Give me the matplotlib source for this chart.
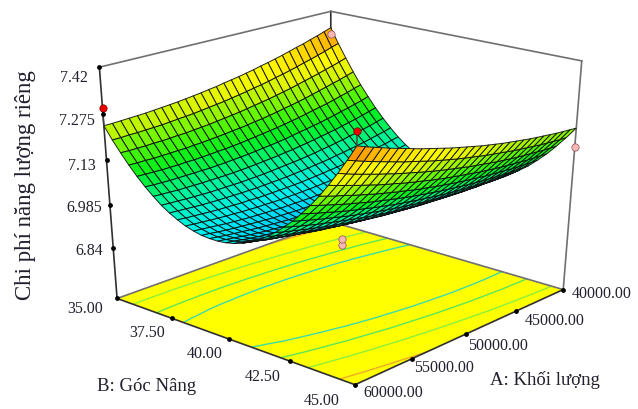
import numpy as np
import matplotlib
matplotlib.use('Agg')
import matplotlib.pyplot as plt
from matplotlib.colors import LinearSegmentedColormap

W, H = 638, 410
A_lim = (40000, 60000)
B_lim = (35, 45)
Z_lim = (6.665, 7.42)

A_ticks = [40000, 45000, 50000, 55000, 60000]
B_ticks = [35, 37.5, 40, 42.5, 45]
Z_ticks = [6.84, 6.985, 7.13, 7.275, 7.42]
A_labels = ['40000.00', '45000.00', '50000.00', '55000.00', '60000.00']
B_labels = ['35.00', '37.50', '40.00', '42.50', '45.00']
Z_labels = ['6.84', '6.985', '7.13', '7.275', '7.42']

# surface heights, in thousandths
# one row per A step (40000 -> 60000), one column per B step (35 -> 45)
z_rows = [
    [7365,7317,7273,7231,7192,7157,7124,7094,7067,7042,7021,7003,6987,6975,6965,6959,6955,6954,6956,6961,6969,6980,6994,7011,7031,7053,7079,7107,7139,7173,7210],
    [7357,7310,7265,7224,7186,7150,7118,7088,7061,7037,7016,6998,6983,6971,6962,6956,6952,6952,6954,6960,6968,6979,6994,7010,7030,7053,7079,7108,7140,7174,7212],
    [7349,7302,7258,7217,7179,7144,7112,7082,7056,7032,7012,6994,6979,6968,6959,6953,6950,6950,6952,6958,6967,6978,6993,7010,7031,7054,7080,7109,7141,7176,7214],
    [7342,7295,7252,7211,7173,7138,7106,7077,7051,7028,7008,6990,6976,6964,6956,6950,6947,6948,6951,6957,6966,6978,6993,7010,7031,7054,7081,7110,7143,7178,7216],
    [7334,7288,7245,7205,7167,7133,7101,7072,7046,7024,7004,6987,6973,6961,6953,6948,6945,6946,6949,6956,6965,6977,6992,7011,7032,7055,7082,7112,7145,7180,7219],
    [7328,7282,7239,7199,7161,7127,7096,7068,7042,7020,7000,6983,6970,6959,6951,6946,6944,6945,6948,6955,6965,6977,6993,7011,7032,7057,7084,7114,7147,7183,7222],
    [7321,7275,7233,7193,7156,7122,7091,7063,7038,7016,6997,6980,6967,6956,6949,6944,6942,6943,6948,6955,6965,6977,6993,7012,7034,7058,7086,7116,7149,7186,7225],
    [7314,7269,7227,7187,7151,7117,7087,7059,7034,7012,6993,6977,6964,6954,6947,6943,6941,6943,6947,6954,6965,6978,6994,7013,7035,7060,7088,7118,7152,7189,7228],
    [7308,7263,7221,7182,7146,7113,7083,7055,7031,7009,6991,6975,6962,6952,6945,6941,6940,6942,6947,6954,6965,6979,6995,7014,7037,7062,7090,7121,7155,7192,7232],
    [7302,7258,7216,7177,7141,7109,7079,7052,7027,7006,6988,6973,6960,6951,6944,6940,6940,6942,6947,6955,6966,6980,6996,7016,7039,7064,7093,7124,7158,7196,7236],
    [7297,7252,7211,7173,7137,7105,7075,7048,7024,7004,6986,6971,6958,6949,6943,6940,6939,6942,6947,6955,6967,6981,6998,7018,7041,7067,7096,7127,7162,7200,7240],
    [7291,7247,7206,7168,7133,7101,7072,7045,7022,7001,6983,6969,6957,6948,6942,6939,6939,6942,6948,6956,6968,6982,7000,7020,7043,7070,7099,7131,7166,7204,7244],
    [7286,7243,7202,7164,7129,7097,7068,7042,7019,6999,6982,6967,6956,6947,6942,6939,6939,6942,6948,6957,6969,6984,7002,7023,7046,7073,7102,7135,7170,7208,7249],
    [7281,7238,7198,7160,7126,7094,7066,7040,7017,6997,6980,6966,6955,6947,6941,6939,6940,6943,6949,6959,6971,6986,7004,7025,7049,7076,7106,7139,7174,7213,7254],
    [7277,7234,7194,7157,7123,7091,7063,7038,7015,6995,6979,6965,6954,6946,6941,6939,6940,6944,6951,6960,6973,6989,7007,7028,7053,7080,7110,7143,7179,7218,7259],
    [7273,7230,7190,7153,7120,7089,7061,7036,7013,6994,6978,6964,6954,6946,6942,6940,6941,6945,6952,6962,6975,6991,7010,7032,7056,7084,7114,7147,7184,7223,7265],
    [7268,7226,7187,7150,7117,7086,7059,7034,7012,6993,6977,6964,6954,6946,6942,6941,6942,6947,6954,6965,6978,6994,7013,7035,7060,7088,7119,7152,7189,7228,7271],
    [7265,7223,7184,7148,7114,7084,7057,7032,7011,6992,6977,6964,6954,6947,6943,6942,6944,6949,6956,6967,6981,6997,7016,7039,7064,7092,7123,7157,7194,7234,7277],
    [7261,7220,7181,7145,7112,7082,7055,7031,7010,6992,6976,6964,6954,6948,6944,6943,6946,6951,6959,6970,6984,7000,7020,7043,7068,7097,7128,7163,7200,7240,7283],
    [7258,7217,7178,7143,7110,7081,7054,7030,7009,6991,6976,6964,6955,6949,6946,6945,6948,6953,6961,6973,6987,7004,7024,7047,7073,7102,7134,7168,7206,7246,7290],
    [7255,7214,7176,7141,7109,7079,7053,7029,7009,6991,6977,6965,6956,6950,6947,6947,6950,6956,6964,6976,6991,7008,7028,7052,7078,7107,7139,7174,7212,7253,7297],
    [7252,7212,7174,7139,7107,7078,7052,7029,7009,6992,6977,6966,6957,6952,6949,6949,6952,6959,6968,6980,6994,7012,7033,7057,7083,7113,7145,7180,7219,7260,7304],
    [7250,7210,7172,7138,7106,7077,7052,7029,7009,6992,6978,6967,6959,6954,6951,6952,6955,6962,6971,6983,6999,7017,7038,7062,7089,7118,7151,7187,7225,7267,7311],
    [7248,7208,7171,7136,7105,7077,7052,7029,7010,6993,6979,6968,6961,6956,6954,6955,6958,6965,6975,6987,7003,7021,7043,7067,7094,7124,7157,7193,7232,7274,7319],
    [7246,7206,7169,7136,7105,7077,7052,7029,7010,6994,6981,6970,6963,6958,6956,6958,6962,6969,6979,6992,7008,7026,7048,7073,7100,7131,7164,7200,7240,7282,7327],
    [7244,7205,7168,7135,7104,7077,7052,7030,7011,6995,6982,6972,6965,6961,6959,6961,6965,6973,6983,6996,7013,7032,7054,7079,7106,7137,7171,7208,7247,7290,7335],
    [7243,7204,7168,7135,7104,7077,7053,7031,7012,6997,6984,6974,6967,6964,6962,6964,6969,6977,6988,7001,7018,7037,7059,7085,7113,7144,7178,7215,7255,7298,7343],
    [7242,7203,7167,7134,7104,7077,7053,7032,7014,6999,6986,6977,6970,6967,6966,6968,6973,6981,6992,7006,7023,7043,7066,7091,7120,7151,7186,7223,7263,7306,7352],
    [7241,7203,7167,7135,7105,7078,7055,7034,7016,7001,6989,6980,6973,6970,6970,6972,6978,6986,6997,7012,7029,7049,7072,7098,7127,7159,7193,7231,7271,7315,7361],
    [7240,7202,7167,7135,7106,7079,7056,7035,7018,7003,6991,6983,6977,6974,6974,6977,6982,6991,7003,7017,7035,7055,7079,7105,7134,7166,7201,7239,7280,7324,7370],
    [7240,7202,7168,7136,7107,7081,7058,7037,7020,7006,6994,6986,6980,6978,6978,6981,6987,6996,7008,7023,7041,7062,7086,7112,7142,7174,7209,7248,7289,7333,7380],
]

# design points
red_A = [60000, 60000]
red_B = [35, 45]
red_Z = [7.295, 7.42]
red_base = [7.24, 7.38]
pink_A = [40000, 40000]
pink_B = [45, 35]
pink_Z = [7.15, 7.345]
centre_Z = [6.858, 6.835]

levels = [7.005, 7.07, 7.16, 7.30]
level_colors = ['#3cdcaa', '#5ae65a', '#8cf03c', '#f0aa28']
stops = [(6.94, (0, 200, 255)), (6.98, (0, 240, 240)), (7.04, (0, 245, 160)), (7.11, (0, 240, 30)), (7.17, (90, 245, 0)),
         (7.24, (225, 245, 0)), (7.28, (255, 250, 0)), (7.33, (255, 190, 0)), (7.385, (255, 90, 0))]

fig = plt.figure(figsize=(6.38, 4.10), dpi=100)
ax = fig.add_axes([0, (H-W)/2/H, 1, W/H], projection='3d', computed_zorder=False)
ax.set_xlim(*A_lim)
ax.set_ylim(*B_lim)
ax.set_zlim(*Z_lim)
ax.set_axis_off()
ax.patch.set_alpha(0)

# the camera is solved from where the box corners sit in the picture
box = [(1, 0, 0), (1, 0, 1), (0, 0, 0), (0, 0, 1), (0, 1, 0), (0, 1, 1), (1, 1, 0)]
pix = [(117, 298.3), (99.5, 68.5), (331, 224), (330.7, 11.7), (563.3, 289.3), (581.7, 62.3), (355, 386.7)]
rows = []
for (x, y, z), (u, v) in zip(box, pix):
    v = H-v
    rows.append([x, y, z, 1, 0, 0, 0, 0, -u*x, -u*y, -u*z, -u])
    rows.append([0, 0, 0, 0, x, y, z, 1, -v*x, -v*y, -v*z, -v])
P = np.linalg.svd(np.array(rows))[2][-1].reshape(3, 4)
P = P/P[2].dot([.5, .5, .5, 1])
xl = ax.viewLim.intervalx
yl = ax.viewLim.intervaly
y_off = (H-W)/2
su = (xl[1]-xl[0])/W
sv = (yl[1]-yl[0])/W
M_view = np.vstack([su*P[0]+xl[0]*P[2], sv*P[1]+(yl[0]-sv*y_off)*P[2], [0, 0, 0, -.5], P[2]])
to_unit = np.diag([1/(A_lim[1]-A_lim[0]), 1/(B_lim[1]-B_lim[0]), 1/(Z_lim[1]-Z_lim[0]), 1.0])
to_unit[:3, 3] = [-A_lim[0]*to_unit[0, 0], -B_lim[0]*to_unit[1, 1], -Z_lim[0]*to_unit[2, 2]]
M_full = M_view @ to_unit
ax.get_proj = lambda: M_full

Z = np.array(z_rows)/1000
n = Z.shape[0]
Xg, Yg = np.meshgrid(np.linspace(*A_lim, n), np.linspace(*B_lim, n), indexing='ij')

lo, hi = stops[0][0], stops[-1][0]
cmap = LinearSegmentedColormap.from_list('rs', [((v-lo)/(hi-lo), tuple(c/255 for c in col)) for v, col in stops])
Zc = (Z[:-1, :-1]+Z[1:, :-1]+Z[:-1, 1:]+Z[1:, 1:])/4
fc = np.ones((n, n, 4))
fc[:-1, :-1] = cmap((Zc-lo)/(hi-lo))

A0, A1 = A_lim
B0, B1 = B_lim
Z0, Z1 = Z_lim

# yellow floor with the contour lines
ax.plot_surface(np.array([[A0, A0], [A1, A1]]), np.array([[B0, B1], [B0, B1]]), np.full((2, 2), Z0),
                color=(1, 1, 0), shade=False, linewidth=0, zorder=1)
ax.contour(Xg, Yg, Z, levels=levels, colors=level_colors, offset=Z0, zdir='z', linewidths=1.0, zorder=2)

# box edges
gray = '#707070'
dark = '#303030'
edges = [((A1, B0, Z0), (A0, B0, Z0), gray), ((A0, B0, Z0), (A0, B1, Z0), gray), ((A1, B0, Z0), (A1, B1, Z0), dark),
         ((A1, B1, Z0), (A0, B1, Z0), dark), ((A1, B0, Z0), (A1, B0, Z1), dark), ((A0, B0, Z0), (A0, B0, Z1), dark),
         ((A0, B1, Z0), (A0, B1, Z1), gray), ((A1, B0, Z1), (A0, B0, Z1), gray), ((A0, B0, Z1), (A0, B1, Z1), gray)]
for p, q, c in edges:
    ax.plot(*zip(p, q), color=c, lw=1.2, zorder=2)

pink = '#f4b8b8'
ax.scatter([50000]*len(centre_Z), [40]*len(centre_Z), centre_Z, s=28, c=pink, edgecolors='#905050', linewidths=.5,
           depthshade=False, zorder=2.5)
ax.plot_surface(Xg, Yg, Z, facecolors=fc, rstride=1, cstride=1, edgecolor=(.05, .05, .05, .9), linewidth=.7,
                shade=False, zorder=3)
for x, y, z0, z1 in zip(red_A, red_B, red_base, red_Z):
    ax.plot([x, x], [y, y], [z0, z1], color='#404040', lw=1, zorder=4)
ax.scatter(red_A, red_B, red_Z, s=28, c='#f00000', edgecolors='#700000', linewidths=.5, depthshade=False, zorder=5)
ax.scatter(pink_A, pink_B, pink_Z, s=28, c=pink, edgecolors='#905050', linewidths=.5, depthshade=False, zorder=5)

# tick dots on the axes
ax.scatter([A1]*len(Z_ticks), [B0]*len(Z_ticks), Z_ticks, s=6, c='k', depthshade=False, zorder=5)
ax.scatter([A1]*len(B_ticks), B_ticks, [Z0]*len(B_ticks), s=6, c='k', depthshade=False, zorder=5)
ax.scatter(A_ticks[:-1], [B1]*(len(A_ticks)-1), [Z0]*(len(A_ticks)-1), s=6, c='k', depthshade=False, zorder=5)


def label(x, y, s, size=11.5, **kw):
    fig.text(x/W, 1-y/H, s, fontsize=size, family='Liberation Serif', color='#20202e', ha='center', va='center', **kw)


for (x, y), s in zip([(89, 251), (84, 208), (82, 166), (77, 121), (74, 78)], Z_labels):
    label(x, y, s)
for (x, y), s in zip([(85, 309), (147, 333), (205, 354), (263, 377), (322, 401)], B_labels):
    label(x, y, s)
for (x, y), s in zip([(602, 294), (555, 321), (498, 346), (444, 368), (393, 393)], A_labels):
    label(x, y, s)
label(545, 380, 'A: Khối lượng', 13.5)
label(147, 387, 'B: Góc Nâng', 13.5)
label(25, 185, 'Chi phí năng lượng riêng', 16.5, rotation=90)

fig.savefig('out.png', dpi=100)
